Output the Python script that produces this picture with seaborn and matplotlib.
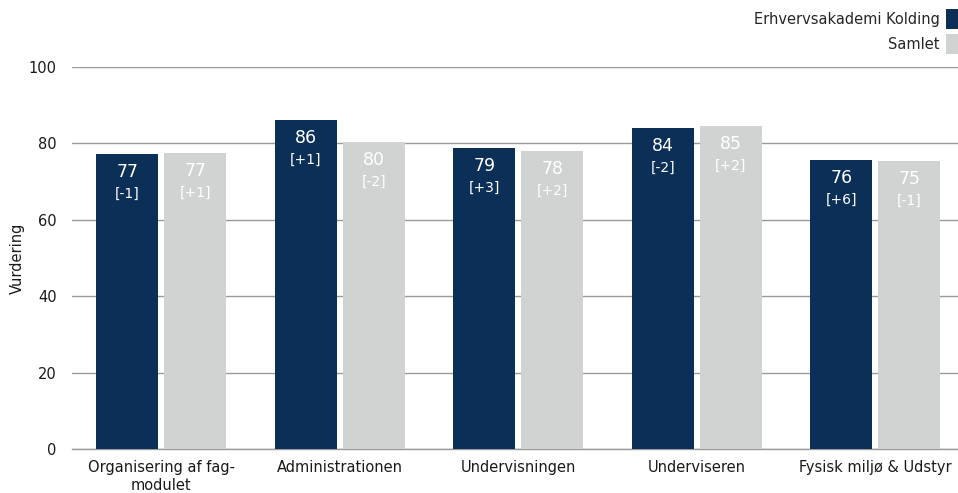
import matplotlib
matplotlib.use("Agg")
import matplotlib.pyplot as plt
import seaborn as sns
import pandas as pd

categories = ["Organisering af fag-\nmodulet", "Administrationen", "Undervisningen",
              "Underviseren", "Fysisk miljø & Udstyr"]
series_names = ["Erhvervsakademi Kolding", "Samlet"]
kolding = [77.2, 86.1, 78.8, 84.0, 75.7]
samlet = [77.5, 80.3, 78.0, 84.6, 75.4]
kolding_lbl = ["77", "86", "79", "84", "76"]
samlet_lbl = ["77", "80", "78", "85", "75"]
kolding_chg = ["[-1]", "[+1]", "[+3]", "[-2]", "[+6]"]
samlet_chg = ["[+1]", "[-2]", "[+2]", "[+2]", "[-1]"]
yticks = [0, 20, 40, 60, 80, 100]

df = pd.DataFrame({
    "Kategori": categories * 2,
    "Serie": [series_names[0]] * len(categories) + [series_names[1]] * len(categories),
    "Vurdering": kolding + samlet,
})

sns.set_theme(style="white")
plt.rcParams["font.family"] = ["DejaVu Sans"]

fig = plt.figure(figsize=(9.58, 4.93), dpi=100)
ax = fig.add_axes([72 / 958, 1 - 449 / 493, 1 - 72 / 958, 382 / 493])

palette = {series_names[0]: "#0c2f57", series_names[1]: "#d0d3d2"}
sns.barplot(data=df, x="Kategori", y="Vurdering", hue="Serie", order=categories,
            hue_order=series_names, palette=palette, width=0.76, gap=0.09,
            saturation=1, ax=ax, zorder=3, legend=True, linewidth=0, edgecolor="none")

ax.set_ylim(0, 100)
ax.set_xlim(-0.5, -0.5 + (958 - 72) / 178.5)
ax.set_yticks(yticks)
ax.yaxis.grid(True, color="#9a9a9a", linewidth=1.0, zorder=0)
ax.set_axisbelow(True)
for s in ["top", "right", "left"]:
    ax.spines[s].set_visible(False)
ax.spines["bottom"].set_color("#9a9a9a")
ax.spines["bottom"].set_linewidth(1.0)
ax.tick_params(axis="both", length=0, labelsize=10.5, colors="#1a1a1a")
ax.tick_params(axis="y", pad=11)
ax.tick_params(axis="x", pad=8)
for t in ax.get_xticklabels():
    t.set_linespacing(1.25)
ax.set_xlabel("")
ax.set_ylabel("Vurdering", fontsize=10.5, color="#1a1a1a", labelpad=3)

# value labels
for cont, lbls, chgs in zip(ax.containers, [kolding_lbl, samlet_lbl], [kolding_chg, samlet_chg]):
    for bar, l, c in zip(cont, lbls, chgs):
        xc = bar.get_x() + bar.get_width() / 2
        top = bar.get_height()
        ax.annotate(l, (xc, top), xytext=(0, -13), textcoords="offset points",
                    ha="center", va="center", color="white", fontsize=12.5, zorder=5)
        ax.annotate(c, (xc, top), xytext=(0, -28.5), textcoords="offset points",
                    ha="center", va="center", color="white", fontsize=10, zorder=5)

handles, labels = ax.get_legend_handles_labels()
ax.get_legend().remove()
fig.legend(handles, labels, loc="upper right", bbox_to_anchor=(1.0, 1 - 9 / 493),
           frameon=False, markerfirst=False, fontsize=10.5, handlelength=0.8,
           handleheight=1.75, handletextpad=0.45, labelspacing=0.35,
           borderaxespad=0.0, borderpad=0.0)

fig.savefig("out.png", dpi=100)
